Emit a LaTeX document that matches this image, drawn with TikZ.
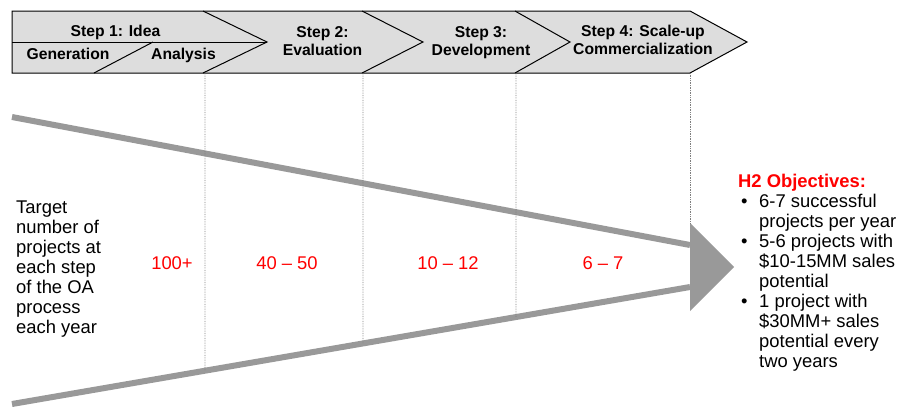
\documentclass[tikz,border=0pt]{standalone}
\usepackage{fontspec}
\setmainfont{Liberation Sans}
\definecolor{bandfill}{HTML}{DDDDDD}
\definecolor{funnel}{HTML}{999999}
\definecolor{guide}{HTML}{7F7F7F}
\definecolor{hot}{HTML}{FF0000}
% two-line header labels, anchored on the first baseline
\newcommand{\steplabel}[1]{\begin{tabular}[t]{@{}c@{}}#1\end{tabular}}
% one bullet entry with hanging indent
\newcommand{\goalitem}{\par\hangindent=21pt\hangafter=1\noindent\makebox[21pt][l]{\hspace{3pt}•}}
\begin{document}
\begin{tikzpicture}[x=1pt,y=-1pt,
  bandline/.style={draw=black,line width=1pt,line join=miter},
  hdr/.style={inner sep=0pt,anchor=base,font=\fontsize{15.7}{18}\selectfont\bfseries},
  body/.style={inner sep=0pt,font=\fontsize{18.4}{20}\selectfont},
  count/.style={body,text=hot,anchor=center},
  funnelline/.style={draw=funnel,line width=6pt},
  guideline/.style={draw=guide,line width=0.7pt,densely dotted}]
\useasboundingbox (0,0) rectangle (899,408);

% header band with chevron separators
\draw[bandline,fill=bandfill] (12,11) -- (690,11) -- (747,42) -- (690,73) -- (12,73) -- cycle;
\draw[bandline] (203,11) -- (267,42) -- (203,73);
\draw[bandline] (362,11) -- (423,42) -- (362,73);
\draw[bandline] (515,11) -- (570,42) -- (515,73);
\draw[bandline] (12,42) -- (267,42);
\draw[bandline] (94,73) -- (153,42);

\renewcommand{\arraystretch}{1}
\node[hdr] (s1) at (115.5,36.7) {Step 1: Idea};
\node[hdr] (s1a) at (68,59) {Generation};
\node[hdr] (s1b) at (183.5,59) {Analysis};
\node[hdr] (s2) at (322.5,37) {\steplabel{Step 2:\\Evaluation}};
\node[hdr] (s3) at (481,37) {\steplabel{Step 3:\\Development}};
\node[hdr] (s4) at (643,36.7) {\steplabel{Step 4: Scale-up\\Commercialization}};

% funnel
\coordinate (u1) at (12,117);
\coordinate (u2) at (690,245);
\coordinate (l1) at (12,404);
\coordinate (l2) at (690,287);
\coordinate (tipT) at (690,223);
\coordinate (tipP) at (734,267);
\coordinate (tipB) at (690,311);
\draw[funnelline] (u1) -- (u2);
\draw[funnelline] (l1) -- (l2);
\fill[funnel] (tipT) -- (tipP) -- (tipB) -- cycle;

% dotted stage boundaries
\coordinate (g1t) at (205,73);  \coordinate (g1b) at (205,400);
\coordinate (g2t) at (363,73);  \coordinate (g2b) at (363,400);
\coordinate (g3t) at (516,73);  \coordinate (g3b) at (516,400);
\coordinate (g4t) at (690,73);
\draw[guideline] (g1t) -- (intersection of g1t--g1b and l1--l2);
\draw[guideline] (g2t) -- (intersection of g2t--g2b and l1--l2);
\draw[guideline] (g3t) -- (intersection of g3t--g3b and l1--l2);
\draw[guideline] (g4t) -- (tipT);

% labels
\node[body,anchor=base west] (target) at (16,213)
  {\parbox[t]{120pt}{\raggedright Target\\number of\\projects at\\each step\\of the OA\\process\\each year}};
\node[count] (c1) at (172,263.5) {100+};
\node[count] (c2) at (287,263.5) {40 – 50};
\node[count] (c3) at (448,263.5) {10 – 12};
\node[count] (c4) at (603,263.5) {6 – 7};

\node[body,anchor=base west] (goals) at (738,187)
  {\parbox[t]{160pt}{\raggedright\noindent\textcolor{hot}{\bfseries H2 Objectives:}
   \goalitem 6-7 successful\newline projects per year
   \goalitem 5-6 projects with\newline \$10-15MM sales\newline potential
   \goalitem 1 project with\newline \$30MM+ sales\newline potential every\newline two years}};
\end{tikzpicture}
\end{document}
